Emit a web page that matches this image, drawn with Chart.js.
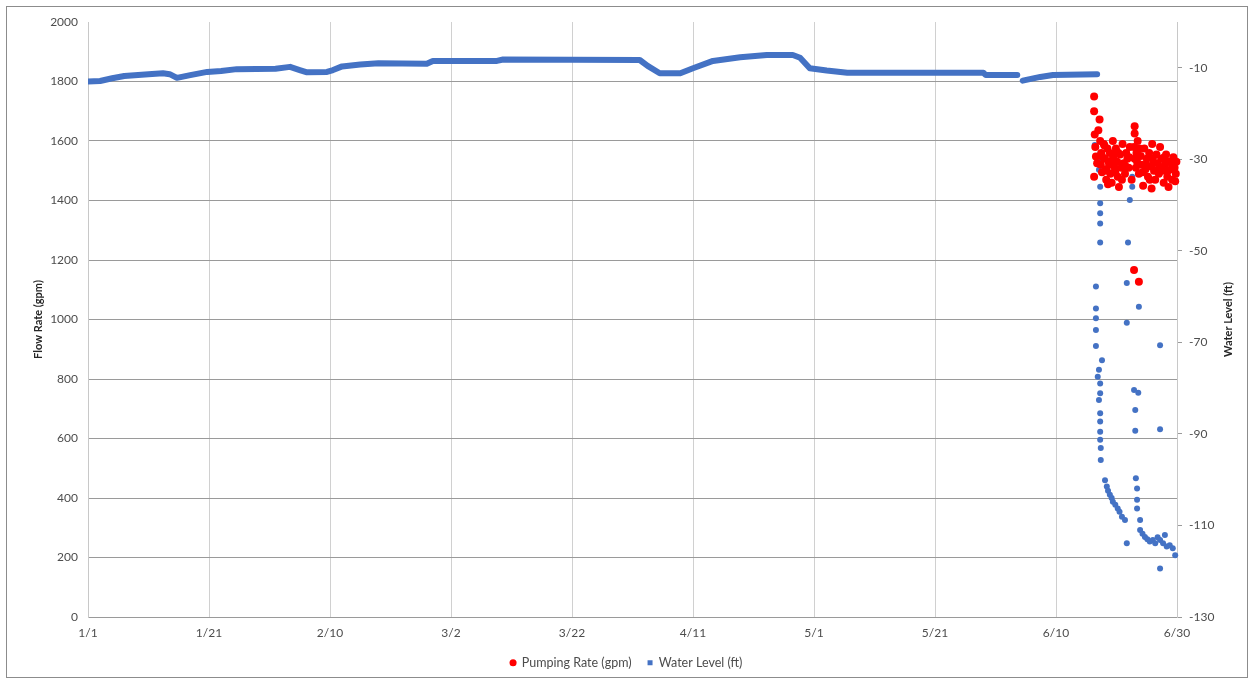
<!DOCTYPE html>
<html>
<head>
<meta charset="utf-8">
<title>Flow Rate and Water Level</title>
<script src="https://cdn.jsdelivr.net/npm/chart.js@4.4.1/dist/chart.umd.min.js"></script>
<style>
    html, body { margin: 0; padding: 0; background: #fff; }
    #frame { position: absolute; left: 6px; top: 6px; width: 1242px; height: 672px; border: 1px solid #8c8c8c; box-sizing: border-box; }
    #chart { position: absolute; left: 0; top: 0; }
</style>
</head>
<body>
<div id="frame"></div>
<canvas id="chart" width="1253" height="683"></canvas>
<script>
// x axis is days since 1/1
const dateDays = [0, 20, 40, 60, 80, 100, 120, 140, 160, 180];
const dateLabels = ["1/1", "1/21", "2/10", "3/2", "3/22", "4/11", "5/1", "5/21", "6/10", "6/30"];
const levelTicks = [-130, -110, -90, -70, -50, -30, -10];

const flowTitle = "Flow Rate (gpm)";
const levelTitle = "Water Level (ft)";

// continuous water level record before pumping (ft)
const traceDays = [0, 2, 4, 6, 10, 12.4, 13.5, 14.7, 16.9, 19.7, 22, 24.6, 31, 33.4, 35, 36.2, 39.5, 40.5, 42, 45,
    48, 56, 57, 67.6, 68.6, 91.2, 92.5, 94.5, 97.9, 100, 103.3, 107.8, 112.2, 116.5, 117.7, 119.3, 122.1, 125.5, 148, 148.4,
    153.6, 154, 154.5, 157.4, 159.5, 166.8];
const traceFt = [-13.0, -12.9, -12.3, -11.8, -11.4, -11.2, -11.4, -12.2, -11.6, -10.9, -10.7, -10.3, -10.2, -9.8, -10.5, -11.0, -10.9, -10.5, -9.7, -9.3,
    -9.0, -9.1, -8.5, -8.5, -8.2, -8.3, -9.6, -11.2, -11.2, -10.1, -8.5, -7.7, -7.2, -7.2, -7.8, -10.1, -10.6, -11.1, -11.1, -11.6,
    -11.6, null, -12.8, -12.0, -11.6, -11.4];

// pumping test readings
const pumpDays = [166.3, 166.3, 166.4, 166.3, 166.5, 166.6, 167.2, 167.0, 167.3, 167.5, 167.4, 167.6, 167.9, 168.1, 168.2, 168.3,
    168.5, 168.7, 168.9, 169.0, 169.2, 169.4, 169.5, 169.7, 169.9, 170.1, 170.2, 170.4, 170.6, 170.8, 171.0, 171.2, 171.4,
    171.6, 171.8, 172.0, 172.2, 172.5, 173.0, 173.0, 172.9, 173.0, 173.2, 173.3, 172.9, 173.5, 173.7, 173.7, 174.0, 174.2,
    174.4, 174.6, 174.8, 175.0, 175.2, 175.4, 175.6, 175.8, 176.0, 176.2, 176.4, 176.6, 176.8, 177.0, 177.2, 177.4, 177.6,
    177.8, 178.0, 178.2, 178.4, 178.6, 178.8, 179.0, 179.2, 179.4, 179.6, 179.8, 179.9,
    166.8, 167.7, 168.0, 168.4, 168.8, 169.3, 169.8, 170.3, 170.9, 171.5, 172.1, 173.4, 173.8, 174.3, 174.9, 175.5,
    176.1, 176.7, 177.3, 177.9, 178.5, 179.1, 179.7, 170.0, 168.6, 175.9];
const pumpGpm = [1750, 1700, 1622, 1480, 1580, 1548, 1672, 1636, 1600, 1560, 1520, 1495, 1590, 1540, 1505, 1470,
    1575, 1530, 1560, 1490, 1460, 1600, 1545, 1510, 1575, 1530, 1480, 1445, 1555, 1510, 1590, 1525, 1490,
    1560, 1540, 1510, 1580, 1470, 1650, 1625, 1580, 1540, 1510, 1560, 1166, 1600, 1490, 1127, 1550, 1520,
    1450, 1575, 1505, 1540, 1480, 1560, 1515, 1440, 1540, 1500, 1470, 1555, 1525, 1490, 1580, 1540, 1500,
    1460, 1520, 1555, 1480, 1445, 1530, 1505, 1470, 1545, 1510, 1490, 1530,
    1525, 1545, 1585, 1500, 1520, 1535, 1495, 1560, 1470, 1515, 1545, 1530, 1575, 1495, 1520, 1470,
    1525, 1500, 1510, 1545, 1500, 1525, 1465, 1565, 1455, 1590];

const levelDays = [166.4, 167.3, 167.3, 167.1, 167.3, 167.3, 167.3, 167.3, 167.3, 166.6, 166.6, 166.6, 166.6, 166.6, 167.6,
    167.1, 166.9, 167.3, 167.3, 167.1, 167.3, 167.3, 167.3, 167.3, 167.4, 167.4, 168.1, 168.4, 168.6, 168.9, 169.2, 169.4,
    169.8, 170.2, 170.5, 170.9, 171.4, 171.7, 171.9, 171.7, 171.7, 172.2, 172.6, 172.6, 172.9, 173.6, 173.1, 173.1, 173.7,
    173.2, 173.4, 173.4, 173.4, 173.9, 173.9, 174.3, 174.7, 175.1, 175.5, 176.0, 176.4, 176.8, 177.2, 177.7, 178.0, 178.3,
    178.8, 179.3, 179.7, 177.2, 177.2, 177.2];
const levelFt = [-26.9, -28.7, -30.2, -32.3, -36.0, -39.6, -41.8, -44.0, -48.2, -57.8, -62.6, -64.7, -67.3, -70.8, -73.9,
    -76.0, -77.5, -79.0, -81.1, -82.6, -85.5, -87.3, -89.5, -91.3, -93.1, -95.7, -100.1, -101.5, -102.4, -103.3, -104.0, -104.8,
    -105.5, -106.3, -107.0, -108.1, -108.8, -113.9, -48.2, -57.0, -65.7, -38.9, -36.0, -33.8, -80.4, -81.0, -84.8, -89.3, -62.2,
    -99.7, -101.9, -104.4, -106.3, -108.8, -111.0, -111.8, -112.5, -113.0, -113.5, -113.2, -113.9, -112.6, -113.2, -113.9, -112.1, -114.6,
    -114.3, -115.0, -116.5, -119.4, -70.6, -89.0];

const RED = "#ff0000";
const BLUE = "#4472c4";
const TEXT = "#4d4d4d";

function pairs(xs, ys) {
    return xs.map((x, i) => ({ x: x, y: ys[i] }));
}

const axisTitles = {
    id: "axisTitles",
    afterDraw(chart) {
        let ctx = chart.ctx;
        let a = chart.chartArea;
        let mid = (a.top + a.bottom) / 2;
        ctx.save();
        ctx.font = "bold 11px Lato";
        ctx.fillStyle = "#262626";
        ctx.textAlign = "center";
        ctx.textBaseline = "middle";
        [[38, flowTitle], [1228, levelTitle]].forEach(([x, text]) => {
            ctx.save();
            ctx.translate(x, mid);
            ctx.rotate(-Math.PI / 2);
            ctx.fillText(text, 0, 0);
            ctx.restore();
        });
        ctx.restore();
    }
};

const legendStyles = ["circle", "rect"];

new Chart(document.getElementById("chart"), {
    type: "scatter",
    data: {
        datasets: [
            {
                label: "Pumping Rate (gpm)",
                data: pairs(pumpDays, pumpGpm),
                yAxisID: "y",
                backgroundColor: RED,
                borderWidth: 0,
                pointRadius: 4,
                clip: false
            },
            {
                label: "Water Level (ft)",
                data: pairs(levelDays, levelFt),
                yAxisID: "y2",
                backgroundColor: BLUE,
                borderWidth: 0,
                pointRadius: 3,
                clip: false
            },
            {
                label: "trace",
                type: "line",
                data: pairs(traceDays, traceFt),
                yAxisID: "y2",
                borderColor: BLUE,
                backgroundColor: BLUE,
                borderWidth: 6,
                borderCapStyle: "round",
                borderJoinStyle: "round",
                pointRadius: 0,
                spanGaps: false,
                tension: 0
            }
        ]
    },
    options: {
        responsive: false,
        animation: false,
        devicePixelRatio: 1,
        layout: { padding: { top: 22, left: 0, right: 0, bottom: 4 } },
        elements: { point: { pointStyle: "circle" } },
        scales: {
            x: {
                type: "linear",
                min: 0,
                max: 180,
                afterBuildTicks: s => { s.ticks = dateDays.map(v => ({ value: v })); },
                afterFit: s => { s.height = 23.5; },
                ticks: {
                    color: TEXT,
                    font: { family: "Lato", size: 12 },
                    padding: 9,
                    maxRotation: 0,
                    callback: v => dateLabels[dateDays.indexOf(v)]
                },
                grid: { color: "#d0d0d0", drawTicks: false },
                border: { color: "#9a9a9a" }
            },
            y: {
                position: "left",
                min: 0,
                max: 2000,
                afterFit: s => { s.width = 88; },
                ticks: {
                    stepSize: 200,
                    color: TEXT,
                    font: { family: "Lato", size: 12 },
                    padding: 10,
                    callback: v => String(v)
                },
                grid: {
                    color: c => c.tick && c.tick.value === 2000 ? "rgba(0,0,0,0)" : "#9a9a9a",
                    drawTicks: false
                },
                border: { color: "#c8c8c8" }
            },
            y2: {
                position: "right",
                min: -130,
                max: 0,
                afterBuildTicks: s => { s.ticks = levelTicks.map(v => ({ value: v })); },
                afterFit: s => { s.width = 76; },
                ticks: {
                    color: TEXT,
                    font: { family: "Lato", size: 12 },
                    padding: 7,
                    callback: v => String(v)
                },
                grid: { drawOnChartArea: false, color: "#9a9a9a", tickLength: 5 },
                border: { color: "#c8c8c8" }
            }
        },
        plugins: {
            tooltip: { enabled: false },
            legend: {
                position: "bottom",
                labels: {
                    usePointStyle: true,
                    boxWidth: 5,
                    boxHeight: 5,
                    padding: 16,
                    color: TEXT,
                    font: { family: "Lato", size: 12.5 },
                    filter: item => item.datasetIndex !== 2,
                    generateLabels: chart => {
                        let items = Chart.defaults.plugins.legend.labels.generateLabels(chart);
                        items.forEach(it => {
                            if (legendStyles[it.datasetIndex]) it.pointStyle = legendStyles[it.datasetIndex];
                        });
                        return items;
                    }
                }
            }
        }
    },
    plugins: [axisTitles]
});
</script>
</body>
</html>
